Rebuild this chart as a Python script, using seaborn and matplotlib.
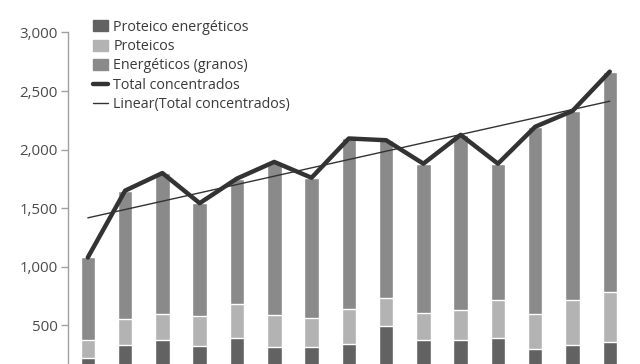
import numpy as np
import pandas as pd
import matplotlib
matplotlib.use("Agg")
import matplotlib.pyplot as plt
import seaborn as sns
from matplotlib.lines import Line2D
from matplotlib.patches import Patch

# ---- data ----
periodos = [str(y) for y in range(2000, 2015)]
proteico_energeticos = [222, 330, 372, 324, 395, 313, 313, 341, 494, 378, 378, 392, 296, 335, 361]
proteicos = [156, 226, 227, 255, 292, 272, 249, 295, 241, 224, 252, 323, 303, 386, 422]
energeticos = [702, 1094, 1201, 964, 1066, 1310, 1198, 1459, 1345, 1278, 1496, 1165, 1596, 1609, 1882]

sns.set_theme(style="white")
plt.rcParams['font.family'] = ['Open Sans', 'DejaVu Sans']

pe = np.array(proteico_energeticos)
pr = np.array(proteicos)
en = np.array(energeticos)
total = pe + pr + en
df = pd.DataFrame({"periodo": periodos, "pe": pe, "pe_pr": pe + pr, "total": total,
                   "x": np.arange(len(periodos))})

c_dark = "#626262"
c_light = "#b3b3b3"
c_mid = "#8a8a8a"
c_line = "#333333"

fig = plt.figure(figsize=(6.4, 3.64), dpi=100)
ax = fig.add_axes([0.106, 0.0, 0.878, 0.911])

sns.barplot(data=df, x="periodo", y="total", color=c_mid, width=0.39, ax=ax, saturation=1)
sns.barplot(data=df, x="periodo", y="pe_pr", color=c_light, width=0.39, ax=ax, saturation=1)
sns.barplot(data=df, x="periodo", y="pe", color=c_dark, width=0.39, ax=ax, saturation=1)

# total line
sns.lineplot(x=df["x"], y=df["total"], color=c_line, linewidth=3.2, ax=ax)
# linear trend
coef = np.polyfit(df["x"], df["total"], 1)
trend = np.polyval(coef, df["x"])
sns.lineplot(x=df["x"], y=trend, color=c_line, linewidth=1.0, ax=ax)

ax.set_xlim(-0.536, len(periodos) - 1 + 0.536)
ax.set_ylim(171, 3000)
ax.set_yticks([500, 1000, 1500, 2000, 2500, 3000])
ax.set_yticklabels([f"{v:,}" for v in [500, 1000, 1500, 2000, 2500, 3000]],
                   fontsize=10.8, color="#4a4a4a")
ax.set_xticks([])
ax.set_xlabel("")
ax.set_ylabel("")
for s in ["top", "right", "bottom"]:
    ax.spines[s].set_visible(False)
ax.spines["left"].set_color("#a0a0a0")
ax.spines["left"].set_linewidth(1.0)
ax.tick_params(axis="y", left=True, length=5, width=1, color="#a0a0a0", pad=2)

handles = [
    Patch(color=c_dark, label="Proteico energéticos"),
    Patch(color=c_light, label="Proteicos"),
    Patch(color=c_mid, label="Energéticos (granos)"),
    Line2D([0], [0], color=c_line, linewidth=3.2, label="Total concentrados"),
    Line2D([0], [0], color=c_line, linewidth=1.0, label="Linear(Total concentrados)"),
]
leg = ax.legend(handles=handles, loc="upper left", bbox_to_anchor=(0.034, 1.055),
                frameon=False, fontsize=10.3, handlelength=1.05, handleheight=0.8,
                handletextpad=0.4, labelspacing=0.3, borderaxespad=0)
for t in leg.get_texts():
    t.set_color("#3a3a3a")

fig.savefig("out.png", dpi=100)
